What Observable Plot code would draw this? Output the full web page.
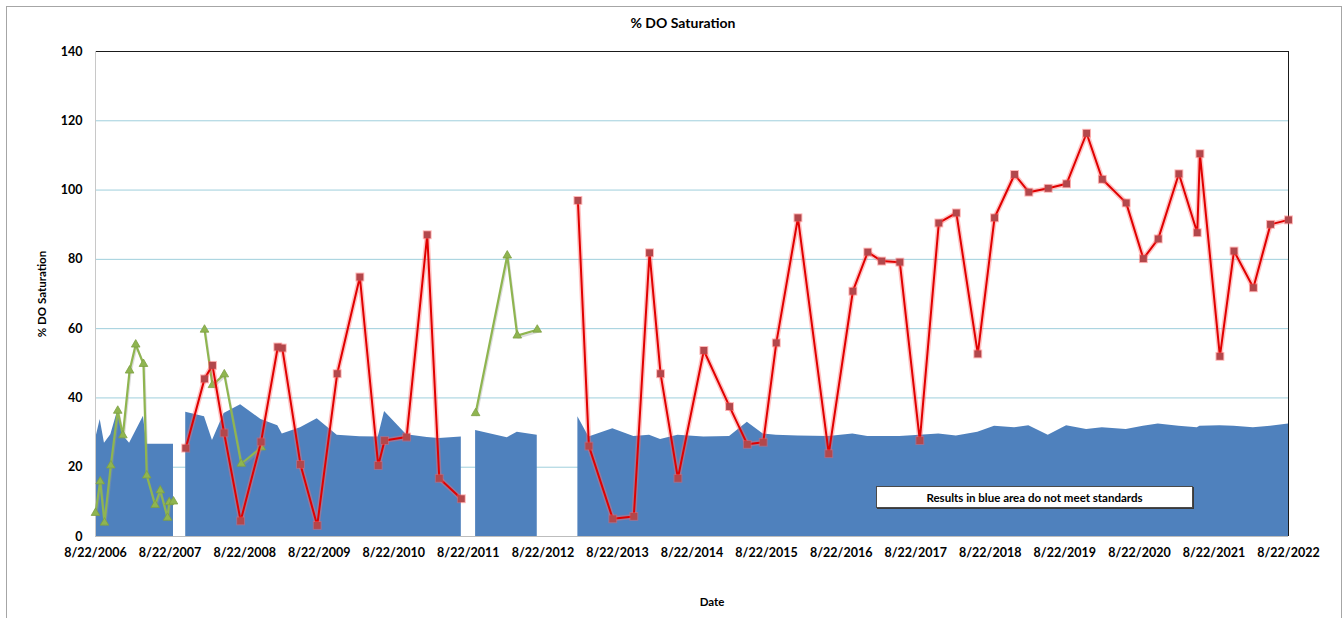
<!DOCTYPE html>
<html><head><meta charset="utf-8">
<script src="https://cdn.jsdelivr.net/npm/d3@7"></script>
<script src="https://cdn.jsdelivr.net/npm/@observablehq/plot@0.6"></script>
<style>
html,body{margin:0;padding:0;background:#fff;overflow:hidden;}
#wrap{position:relative;width:1343px;height:618px;}
#frame{position:absolute;left:6px;top:6px;width:1336px;height:650px;border:1px solid #a6a6a6;box-sizing:border-box;pointer-events:none;}
#note{position:absolute;left:876px;top:486px;width:317px;height:22px;background:#fff;border:1px solid #4a4a4a;box-sizing:border-box;font:bold 11.5px Lato,sans-serif;display:flex;align-items:center;justify-content:center;box-shadow:1px 1px 0 #3a3a3a;color:#000;}
#chart svg{display:block;}
</style></head><body>
<div id="wrap"><div id="chart"></div><div id="frame"></div><div id="note">Results in blue area do not meet standards</div></div>
<script>
const titleText = "% DO Saturation";
const yLabel = "% DO Saturation";
const xLabel = "Date";
const tickLabels = ["8/22/2006","8/22/2007","8/22/2008","8/22/2009","8/22/2010","8/22/2011","8/22/2012","8/22/2013","8/22/2014","8/22/2015","8/22/2016","8/22/2017","8/22/2018","8/22/2019","8/22/2020","8/22/2021","8/22/2022"];
const yTicks = [0,20,40,60,80,100,120,140];
const gridValues = [20,40,60,80,100,120];

// Green series (triangles), three separate runs
const greenDates = ["2006-08-22","2006-09-14","2006-10-05","2006-11-05","2006-12-09","2007-01-03","2007-02-05","2007-03-07","2007-04-14","2007-04-30","2007-06-10","2007-07-05","2007-08-10","2007-08-18","2007-09-08",
  "2008-02-07","2008-03-17","2008-05-14","2008-08-05","2008-11-11",
  "2011-09-27","2012-02-29","2012-04-18","2012-07-25"];
const greenValues = [6.8,15.9,4.0,20.5,36.3,29.2,47.9,55.4,49.8,17.6,9.1,13.3,5.4,9.9,10.1,
  59.7,43.7,46.8,21.0,25.7,
  35.6,81.1,58.0,59.7];
const greenRun = [1,1,1,1,1,1,1,1,1,1,1,1,1,1,1, 2,2,2,2,2, 3,3,3,3];

// Red series (squares), two separate runs
const redDates = ["2007-11-07","2008-02-07","2008-03-17","2008-05-13","2008-08-02","2008-11-10","2009-01-31","2009-02-22","2009-05-22","2009-08-12","2009-11-18","2010-03-09","2010-06-07","2010-07-08","2010-10-24","2011-02-02","2011-04-02","2011-07-19",
  "2013-02-09","2013-04-04","2013-07-30","2013-11-10","2014-01-26","2014-03-21","2014-06-14","2014-10-19","2015-02-22","2015-05-20","2015-08-06","2015-10-09","2016-01-23","2016-06-22","2016-10-18","2016-12-30","2017-03-08","2017-06-05","2017-09-11","2017-12-13","2018-03-09","2018-06-22","2018-09-12","2018-12-19","2019-02-27","2019-06-02","2019-08-31","2019-12-07","2020-02-22","2020-06-18","2020-09-10","2020-11-22","2021-03-03","2021-06-01","2021-06-14","2021-09-20","2021-11-28","2022-03-03","2022-05-26","2022-08-22"];
const redValues = [25.5,45.5,49.4,29.9,4.5,27.3,54.7,54.4,20.8,3.2,47.0,74.9,20.5,27.7,28.7,87.1,16.8,10.9,
  97.0,26.1,5.1,5.8,81.9,47.0,16.8,53.7,37.5,26.6,27.2,55.9,92.0,23.9,70.8,82.1,79.5,79.2,27.7,90.5,93.4,52.7,92.0,104.5,99.4,100.5,101.8,116.4,103.1,96.3,80.2,85.9,104.7,87.7,110.5,52.0,82.4,71.8,90.1,91.4];
const redRun = [1,1,1,1,1,1,1,1,1,1,1,1,1,1,1,1,1,1,
  2,2,2,2,2,2,2,2,2,2,2,2,2,2,2,2,2,2,2,2,2,2,2,2,2,2,2,2,2,2,2,2,2,2,2,2,2,2,2,2];

// Blue area: standard (results below do not meet standards), four runs
const blueDates = ["2006-08-22","2006-09-14","2006-10-05","2006-11-05","2006-12-09","2007-01-03","2007-02-05","2007-04-14","2007-04-30","2007-09-08",
  "2007-11-07","2008-02-07","2008-03-17","2008-05-13","2008-08-02","2008-11-10","2009-01-31","2009-02-22","2009-05-22","2009-08-12","2009-11-18","2010-03-09","2010-06-07","2010-07-08","2010-10-24","2011-02-02","2011-04-02","2011-07-19",
  "2011-09-27","2012-02-29","2012-04-18","2012-07-25",
  "2013-02-09","2013-04-04","2013-07-30","2013-11-10","2014-01-26","2014-03-21","2014-06-14","2014-10-19","2015-02-22","2015-05-20","2015-08-06","2015-10-09","2016-01-23","2016-06-22","2016-10-18","2016-12-30","2017-03-08","2017-06-05","2017-09-11","2017-12-13","2018-03-09","2018-06-22","2018-09-12","2018-12-19","2019-02-27","2019-06-02","2019-08-31","2019-12-07","2020-02-22","2020-06-18","2020-09-10","2020-11-22","2021-03-03","2021-06-01","2021-06-14","2021-09-20","2021-11-28","2022-03-03","2022-05-26","2022-08-22"];
const blueValues = [28.0,33.8,26.9,29.4,36.4,29.2,26.9,34.7,26.6,26.6,
  35.9,34.6,27.7,35.5,38.0,33.8,32.0,29.6,31.4,34.0,29.2,28.8,28.7,36.1,29.4,28.6,28.3,28.7,
  30.6,28.5,30.1,29.2,
  34.6,28.7,31.1,28.9,29.2,28.0,29.2,28.7,28.9,33.0,29.6,29.2,29.0,28.9,29.6,28.9,28.9,28.9,29.2,29.6,29.0,30.1,31.8,31.4,32.0,29.2,32.0,30.9,31.4,30.9,31.8,32.5,31.8,31.4,31.8,32.0,31.8,31.4,31.8,32.5];
const blueRun = [1,1,1,1,1,1,1,1,1,1,
  2,2,2,2,2,2,2,2,2,2,2,2,2,2,2,2,2,2,
  3,3,3,3,
  4,4,4,4,4,4,4,4,4,4,4,4,4,4,4,4,4,4,4,4,4,4,4,4,4,4,4,4,4,4,4,4,4,4,4,4,4,4,4,4];

const parse = d3.utcParse("%Y-%m-%d");
const parseTick = d3.utcParse("%m/%d/%Y");
const tickDates = tickLabels.map(parseTick);
const labelOf = new Map(tickDates.map((d, i) => [+d, tickLabels[i]]));

const green = greenDates.map((d, i) => ({date: parse(d), value: greenValues[i], run: greenRun[i]}));
const red = redDates.map((d, i) => ({date: parse(d), value: redValues[i], run: redRun[i]}));
const blue = blueDates.map((d, i) => ({date: parse(d), value: blueValues[i], run: blueRun[i]}));

const xMin = tickDates[0], xMax = tickDates[tickDates.length - 1];

const chart = Plot.plot({
  width: 1343,
  height: 618,
  marginLeft: 95,
  marginRight: 55,
  marginTop: 51,
  marginBottom: 82,
  style: {fontFamily: "Lato, sans-serif", fontWeight: "bold", fontSize: "12px", color: "#000", background: "transparent", overflow: "visible"},
  x: {type: "utc", domain: [xMin, xMax]},
  y: {domain: [0, 140]},
  marks: [
    Plot.ruleY(gridValues, {stroke: "#9fcfdc", strokeWidth: 1}),
    Plot.ruleY([140], {stroke: "#1a1a1a", strokeWidth: 1}),
    Plot.areaY(blue, {x: "date", y: "value", z: "run", fill: "#4f81bd", curve: "linear"}),
    Plot.ruleX([xMin], {stroke: "#c8c8c8", strokeWidth: 1}),
    Plot.ruleY([0], {stroke: "#bdbdbd", strokeWidth: 1}),
    Plot.ruleX([xMax], {stroke: "#1a1a1a", strokeWidth: 1}),
    // green series
    Plot.line(green, {x: "date", y: "value", z: "run", stroke: "#9a9a9a", strokeWidth: 2, strokeOpacity: 0.35, dx: 1, dy: 2}),
    Plot.line(green, {x: "date", y: "value", z: "run", stroke: "#8fb550", strokeWidth: 2.2}),
    Plot.dot(green, {x: "date", y: "value", symbol: "triangle", r: 3.2, fill: "#8fb550", stroke: "#7ea043", strokeWidth: 0.8}),
    // red series
    Plot.line(red, {x: "date", y: "value", z: "run", stroke: "#ff6b6b", strokeWidth: 5, strokeOpacity: 0.4}),
    Plot.line(red, {x: "date", y: "value", z: "run", stroke: "#e00000", strokeWidth: 2}),
    Plot.dot(red, {x: "date", y: "value", symbol: "square", r: 5, fill: "#ff5a5a", fillOpacity: 0.45}),
    Plot.dot(red, {x: "date", y: "value", symbol: "square", r: 3.9, fill: "#b3474b"}),
    // axes
    Plot.axisX({ticks: tickDates, tickFormat: d => labelOf.get(+d), tickSize: 0, tickPadding: 12, label: null, fontSize: 12.5}),
    Plot.axisY({ticks: yTicks, tickSize: 0, tickPadding: 13, label: null, fontSize: 12.5}),
    // titles
    Plot.text([titleText], {frameAnchor: "top", lineAnchor: "middle", dx: -9, dy: -28, fontSize: 14, fontWeight: "bold", fill: "#000"}),
    Plot.text([yLabel], {frameAnchor: "left", textAnchor: "middle", lineAnchor: "middle", dx: -53, rotate: -90, fontSize: 11.5, fontWeight: "bold", fill: "#000"}),
    Plot.text([xLabel], {frameAnchor: "bottom", lineAnchor: "middle", dx: 20, dy: 66, fontSize: 11.5, fontWeight: "bold", fill: "#000"})
  ]
});
document.getElementById("chart").append(chart);
</script>
</body></html>
